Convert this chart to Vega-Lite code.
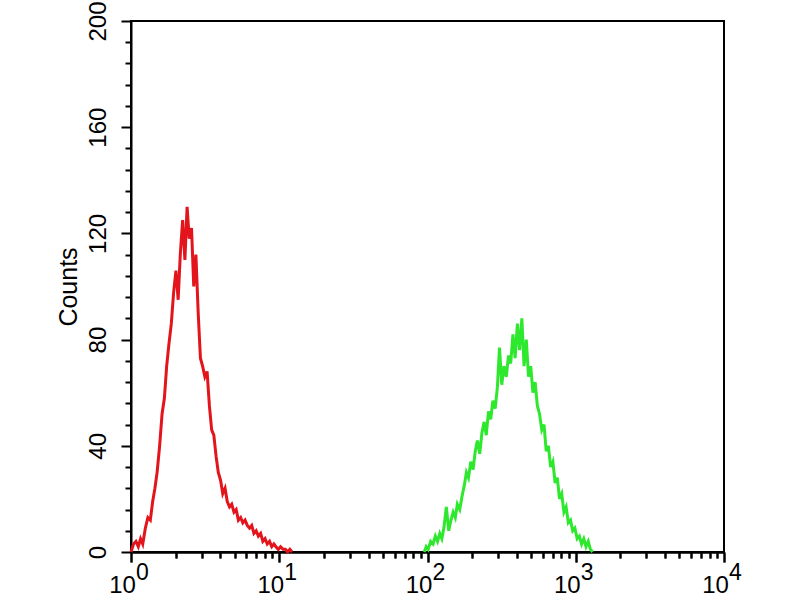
{
  "$schema": "https://vega.github.io/schema/vega-lite/v6.json",
  "width": 593,
  "height": 531,
  "autosize": {"type": "none"},
  "padding": {"left": 131, "top": 21, "right": 76, "bottom": 48},
  "background": "white",
  "datasets": {
    "hist": [
      {"series": "control", "intensity": 1.0, "count": 0},
      {"series": "control", "intensity": 1.04, "count": 3},
      {"series": "control", "intensity": 1.08, "count": 4},
      {"series": "control", "intensity": 1.12, "count": 2},
      {"series": "control", "intensity": 1.16, "count": 5},
      {"series": "control", "intensity": 1.2, "count": 3},
      {"series": "control", "intensity": 1.25, "count": 9},
      {"series": "control", "intensity": 1.3, "count": 13},
      {"series": "control", "intensity": 1.35, "count": 12},
      {"series": "control", "intensity": 1.4, "count": 19},
      {"series": "control", "intensity": 1.45, "count": 24},
      {"series": "control", "intensity": 1.5, "count": 30},
      {"series": "control", "intensity": 1.56, "count": 40},
      {"series": "control", "intensity": 1.62, "count": 52},
      {"series": "control", "intensity": 1.68, "count": 58},
      {"series": "control", "intensity": 1.74, "count": 70},
      {"series": "control", "intensity": 1.8, "count": 78},
      {"series": "control", "intensity": 1.87, "count": 86},
      {"series": "control", "intensity": 1.94, "count": 98},
      {"series": "control", "intensity": 2.01, "count": 106},
      {"series": "control", "intensity": 2.08, "count": 95},
      {"series": "control", "intensity": 2.15, "count": 112},
      {"series": "control", "intensity": 2.23, "count": 125},
      {"series": "control", "intensity": 2.31, "count": 110},
      {"series": "control", "intensity": 2.39, "count": 130},
      {"series": "control", "intensity": 2.47, "count": 118},
      {"series": "control", "intensity": 2.56, "count": 122},
      {"series": "control", "intensity": 2.65, "count": 100},
      {"series": "control", "intensity": 2.74, "count": 112},
      {"series": "control", "intensity": 2.84, "count": 90},
      {"series": "control", "intensity": 2.94, "count": 73},
      {"series": "control", "intensity": 3.04, "count": 70},
      {"series": "control", "intensity": 3.15, "count": 66},
      {"series": "control", "intensity": 3.26, "count": 68},
      {"series": "control", "intensity": 3.38, "count": 55},
      {"series": "control", "intensity": 3.5, "count": 46},
      {"series": "control", "intensity": 3.62, "count": 44},
      {"series": "control", "intensity": 3.75, "count": 36},
      {"series": "control", "intensity": 3.88, "count": 30},
      {"series": "control", "intensity": 4.02, "count": 27},
      {"series": "control", "intensity": 4.16, "count": 22},
      {"series": "control", "intensity": 4.31, "count": 24},
      {"series": "control", "intensity": 4.46, "count": 19},
      {"series": "control", "intensity": 4.62, "count": 17},
      {"series": "control", "intensity": 4.78, "count": 18},
      {"series": "control", "intensity": 4.95, "count": 15},
      {"series": "control", "intensity": 5.12, "count": 16},
      {"series": "control", "intensity": 5.3, "count": 12},
      {"series": "control", "intensity": 5.49, "count": 13},
      {"series": "control", "intensity": 5.68, "count": 11},
      {"series": "control", "intensity": 5.88, "count": 12},
      {"series": "control", "intensity": 6.09, "count": 10},
      {"series": "control", "intensity": 6.3, "count": 9},
      {"series": "control", "intensity": 6.52, "count": 10},
      {"series": "control", "intensity": 6.75, "count": 7},
      {"series": "control", "intensity": 6.99, "count": 8},
      {"series": "control", "intensity": 7.23, "count": 6},
      {"series": "control", "intensity": 7.49, "count": 7},
      {"series": "control", "intensity": 7.75, "count": 4},
      {"series": "control", "intensity": 8.02, "count": 5},
      {"series": "control", "intensity": 8.3, "count": 3},
      {"series": "control", "intensity": 8.6, "count": 4},
      {"series": "control", "intensity": 8.9, "count": 2},
      {"series": "control", "intensity": 9.2, "count": 3},
      {"series": "control", "intensity": 9.5, "count": 2},
      {"series": "control", "intensity": 9.85, "count": 1},
      {"series": "control", "intensity": 10.2, "count": 2},
      {"series": "control", "intensity": 10.6, "count": 1},
      {"series": "control", "intensity": 11, "count": 1},
      {"series": "control", "intensity": 11.4, "count": 0},
      {"series": "control", "intensity": 11.8, "count": 1},
      {"series": "control", "intensity": 12.2, "count": 0},
      {"series": "sample", "intensity": 95, "count": 0},
      {"series": "sample", "intensity": 98, "count": 2},
      {"series": "sample", "intensity": 101, "count": 1},
      {"series": "sample", "intensity": 105, "count": 4},
      {"series": "sample", "intensity": 109, "count": 3},
      {"series": "sample", "intensity": 113, "count": 6},
      {"series": "sample", "intensity": 117, "count": 4},
      {"series": "sample", "intensity": 121, "count": 7},
      {"series": "sample", "intensity": 125, "count": 5},
      {"series": "sample", "intensity": 129, "count": 9},
      {"series": "sample", "intensity": 134, "count": 17},
      {"series": "sample", "intensity": 139, "count": 8},
      {"series": "sample", "intensity": 144, "count": 12},
      {"series": "sample", "intensity": 149, "count": 15},
      {"series": "sample", "intensity": 154, "count": 13},
      {"series": "sample", "intensity": 159, "count": 18},
      {"series": "sample", "intensity": 165, "count": 16},
      {"series": "sample", "intensity": 171, "count": 21},
      {"series": "sample", "intensity": 177, "count": 25},
      {"series": "sample", "intensity": 183, "count": 30},
      {"series": "sample", "intensity": 189, "count": 28},
      {"series": "sample", "intensity": 196, "count": 34},
      {"series": "sample", "intensity": 203, "count": 31},
      {"series": "sample", "intensity": 210, "count": 38},
      {"series": "sample", "intensity": 217, "count": 42},
      {"series": "sample", "intensity": 225, "count": 37},
      {"series": "sample", "intensity": 233, "count": 45},
      {"series": "sample", "intensity": 241, "count": 49},
      {"series": "sample", "intensity": 249, "count": 44},
      {"series": "sample", "intensity": 258, "count": 53},
      {"series": "sample", "intensity": 267, "count": 50},
      {"series": "sample", "intensity": 276, "count": 57},
      {"series": "sample", "intensity": 286, "count": 54},
      {"series": "sample", "intensity": 296, "count": 62},
      {"series": "sample", "intensity": 306, "count": 77},
      {"series": "sample", "intensity": 317, "count": 63},
      {"series": "sample", "intensity": 328, "count": 70},
      {"series": "sample", "intensity": 340, "count": 66},
      {"series": "sample", "intensity": 352, "count": 74},
      {"series": "sample", "intensity": 364, "count": 71},
      {"series": "sample", "intensity": 377, "count": 82},
      {"series": "sample", "intensity": 390, "count": 73},
      {"series": "sample", "intensity": 404, "count": 86},
      {"series": "sample", "intensity": 418, "count": 76},
      {"series": "sample", "intensity": 433, "count": 88},
      {"series": "sample", "intensity": 448, "count": 70},
      {"series": "sample", "intensity": 464, "count": 80},
      {"series": "sample", "intensity": 480, "count": 66},
      {"series": "sample", "intensity": 497, "count": 70},
      {"series": "sample", "intensity": 514, "count": 60},
      {"series": "sample", "intensity": 532, "count": 64},
      {"series": "sample", "intensity": 551, "count": 55},
      {"series": "sample", "intensity": 570, "count": 52},
      {"series": "sample", "intensity": 590, "count": 46},
      {"series": "sample", "intensity": 611, "count": 48},
      {"series": "sample", "intensity": 632, "count": 38},
      {"series": "sample", "intensity": 654, "count": 40},
      {"series": "sample", "intensity": 677, "count": 32},
      {"series": "sample", "intensity": 701, "count": 34},
      {"series": "sample", "intensity": 726, "count": 26},
      {"series": "sample", "intensity": 751, "count": 28},
      {"series": "sample", "intensity": 777, "count": 20},
      {"series": "sample", "intensity": 804, "count": 22},
      {"series": "sample", "intensity": 832, "count": 15},
      {"series": "sample", "intensity": 861, "count": 17},
      {"series": "sample", "intensity": 891, "count": 11},
      {"series": "sample", "intensity": 922, "count": 12},
      {"series": "sample", "intensity": 954, "count": 8},
      {"series": "sample", "intensity": 987, "count": 9},
      {"series": "sample", "intensity": 1022, "count": 5},
      {"series": "sample", "intensity": 1058, "count": 6},
      {"series": "sample", "intensity": 1095, "count": 3},
      {"series": "sample", "intensity": 1133, "count": 5},
      {"series": "sample", "intensity": 1173, "count": 2},
      {"series": "sample", "intensity": 1214, "count": 4},
      {"series": "sample", "intensity": 1256, "count": 1},
      {"series": "sample", "intensity": 1300, "count": 0}
    ]
  },
  "data": {"name": "hist"},
  "encoding": {
    "y": {
      "field": "count",
      "type": "quantitative",
      "scale": {"domain": [0, 200], "nice": false},
      "axis": {
        "title": "Counts",
        "values": [0,8,16,24,32,40,48,56,64,72,80,88,96,104,112,120,128,136,144,152,160,168,176,184,192,200],
        "labelExpr": "datum.value % 40 === 0 ? datum.label : ''",
        "tickSize": {"condition": {"test": "datum.value % 40 === 0", "value": 10}, "value": 6},
        "labelAngle": -90,
        "labelAlign": "center",
        "labelBaseline": "bottom",
        "labelFontSize": 24,
        "labelPadding": 11,
        "labelOverlap": false,
        "labelFlush": false,
        "labelBound": false,
        "titleFontSize": 25,
        "titleFontWeight": "normal",
        "titlePadding": 5
      }
    },
    "color": {
      "field": "series",
      "type": "nominal",
      "scale": {"domain": ["control", "sample"], "range": ["#e3141b", "#2ee82e"]},
      "legend": null
    }
  },
  "layer": [
    {
      "mark": {"type": "line", "strokeWidth": 3, "interpolate": "linear"},
      "encoding": {
        "x": {
          "field": "intensity",
          "type": "quantitative",
          "scale": {"type": "log", "domain": [1, 10000], "nice": false},
          "axis": {
            "title": null,
            "orient": "bottom",
            "values": [1,2,3,4,5,6,7,8,9,10,20,30,40,50,60,70,80,90,100,200,300,400,500,600,700,800,900,1000,2000,3000,4000,5000,6000,7000,8000,9000,10000],
            "labelExpr": "indexof([1,10,100,1000,10000], datum.value) >= 0 ? '10' : ''",
            "tickSize": {"condition": {"test": "indexof([1,10,100,1000,10000], datum.value) >= 0", "value": 10}, "value": 6},
            "labelFontSize": 24,
            "labelPadding": 11,
            "labelOffset": -9,
            "labelOverlap": false,
            "labelFlush": false,
            "labelBound": false
          }
        }
      }
    },
    {
      "mark": {"type": "line", "strokeWidth": 3, "opacity": 0},
      "encoding": {
        "x": {
          "field": "intensity",
          "type": "quantitative",
          "scale": {"type": "log", "domain": [1, 10000], "nice": false},
          "axis": {
            "title": null,
            "orient": "bottom",
            "values": [1,2,3,4,5,6,7,8,9,10,20,30,40,50,60,70,80,90,100,200,300,400,500,600,700,800,900,1000,2000,3000,4000,5000,6000,7000,8000,9000,10000],
            "labelExpr": "indexof([1,10,100,1000,10000], datum.value) >= 0 ? '' + round(log(datum.value)/LN10) : ''",
            "tickSize": {"condition": {"test": "indexof([1,10,100,1000,10000], datum.value) >= 0", "value": 10}, "value": 6},
            "labelFontSize": 23,
            "labelPadding": -1,
            "labelOffset": 11,
            "labelOverlap": false,
            "labelFlush": false,
            "labelBound": false
          }
        }
      }
    }
  ],
  "resolve": {"axis": {"x": "independent"}},
  "config": {
    "view": {"stroke": "black", "strokeWidth": 2},
    "axis": {
      "grid": false,
      "domainColor": "black",
      "domainWidth": 2,
      "tickColor": "black",
      "tickWidth": 2,
      "labelColor": "black",
      "titleColor": "black",
      "labelFont": "Liberation Sans",
      "titleFont": "Liberation Sans"
    }
  }
}
